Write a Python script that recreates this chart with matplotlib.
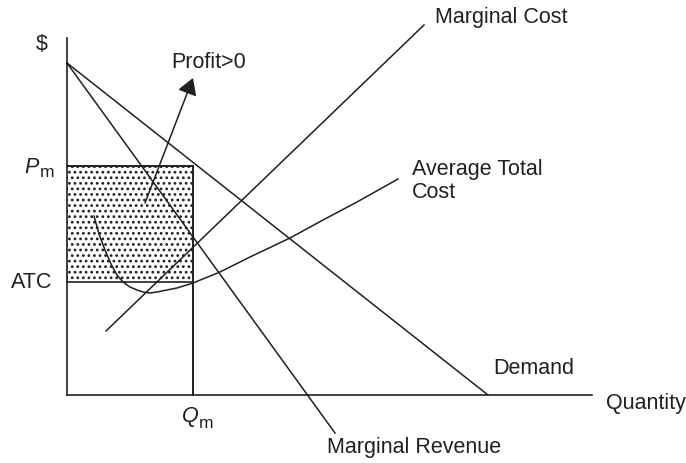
import matplotlib
matplotlib.use("Agg")
import matplotlib.pyplot as plt
from matplotlib.patches import Rectangle

plt.rcParams['font.family'] = ['Liberation Sans', 'DejaVu Sans']
plt.rcParams['hatch.linewidth'] = 1.2

INK = '#231f20'

# ---- data (quantity on x, price on y) ----
axis_x_max = 525
axis_y_max = 357

demand_q = [0, 421]
demand_p = [332, 0]

mr_q = [0, 268]
mr_p = [332, -38]

mc_q = [39, 357]
mc_p = [64, 370]

atc_q = [27, 32, 38, 44, 50, 56, 63, 70, 76, 83, 90, 100, 110, 126, 153, 183, 223, 256, 290, 331]
atc_p = [179, 161, 145, 131, 120, 113, 108, 105, 103, 102, 103, 105, 107, 112, 123, 138, 157, 175, 193, 216]

q_m = 126
p_m = 229
atc_m = 113

arrow_tail = (78, 192)
arrow_tip = (126, 317)

fig = plt.figure(figsize=(6.86, 4.63), dpi=100)
ax = fig.add_axes([0, 0, 1, 1])
ax.set_xlim(-67, 619)
ax.set_ylim(-68, 395)
ax.axis('off')

# profit rectangle
ax.add_patch(Rectangle((0, atc_m), q_m, p_m - atc_m, facecolor='white',
                       edgecolor=INK, linewidth=0, hatch='...', zorder=1))
ax.plot([0, q_m], [p_m, p_m], color=INK, lw=1.4, zorder=3)
ax.plot([0, q_m], [atc_m, atc_m], color=INK, lw=1.2, zorder=3)
ax.plot([q_m, q_m], [0, p_m], color=INK, lw=1.4, zorder=3)

# axes
ax.plot([0, 0], [0, axis_y_max], color=INK, lw=1.2, zorder=3)
ax.plot([0, axis_x_max], [0, 0], color=INK, lw=1.2, zorder=3)

# curves
ax.plot(demand_q, demand_p, color=INK, lw=1.1, zorder=4)
ax.plot(mr_q, mr_p, color=INK, lw=1.1, zorder=4)
ax.plot(mc_q, mc_p, color=INK, lw=1.1, zorder=4)
ax.plot(atc_q, atc_p, color=INK, lw=1.1, zorder=4, solid_joinstyle='round')

ax.annotate('', xy=arrow_tip, xytext=arrow_tail,
            arrowprops=dict(arrowstyle='-|>,head_length=0.5,head_width=0.3',
                            color=INK, lw=1.1, mutation_scale=20,
                            shrinkA=0, shrinkB=0), zorder=5)

fs = 15.5
kw = dict(color=INK, fontsize=fs)
ax.text(-25, 350, '$', ha='center', va='center', **kw)
ax.text(104, 332, 'Profit>0', ha='left', va='center', **kw)
# P_m
ax.text(-28, 222, 'P', ha='right', va='baseline', style='italic', **kw)
ax.text(-27, 218, 'm', ha='left', va='baseline', color=INK, fontsize=12.5)
ax.text(-15, 113, 'ATC', ha='right', va='center', **kw)
# Q_m
ax.text(115, -27, 'Q', ha='left', va='baseline', style='italic', **kw)
ax.text(132, -33, 'm', ha='left', va='baseline', color=INK, fontsize=12.5)
ax.text(260, -53, 'Marginal Revenue', ha='left', va='center', **kw)
ax.text(368, 378, 'Marginal Cost', ha='left', va='center', **kw)
ax.text(345, 225, 'Average Total', ha='left', va='center', **kw)
ax.text(345, 202, 'Cost', ha='left', va='center', **kw)
ax.text(426, 27, 'Demand', ha='left', va='center', **kw)
ax.text(539, -9, 'Quantity', ha='left', va='center', **kw)

fig.savefig('out.png', dpi=100, facecolor='white')
